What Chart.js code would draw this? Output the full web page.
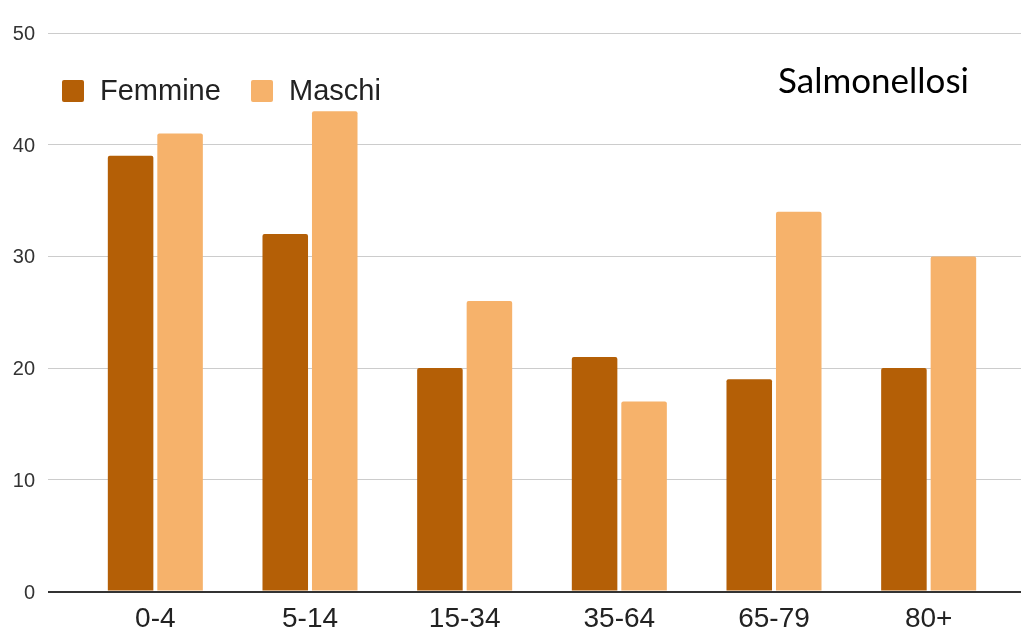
<!DOCTYPE html>
<html>
<head>
<meta charset="utf-8">
<script src="https://cdn.jsdelivr.net/npm/chart.js@4/dist/chart.umd.min.js"></script>
<style>
  html, body { margin: 0; padding: 0; background: #ffffff; }
  #wrap { position: relative; width: 1021px; height: 632px; }
</style>
</head>
<body>
<div id="wrap"><canvas id="c" width="1021" height="632"></canvas></div>
<script>
const categories = ['0-4', '5-14', '15-34', '35-64', '65-79', '80+'];
const femmine = [39, 32, 20, 21, 19, 20];
const maschi = [41, 43, 26, 17, 34, 30];
const seriesNames = ['Femmine', 'Maschi'];
const chartTitle = 'Salmonellosi';
const yTicks = [0, 10, 20, 30, 40, 50];

const FONT = "'Liberation Sans', Arial, sans-serif";

const gridColor = ctx => (ctx.tick && ctx.tick.value === 0) ? '#333333' : '#cccccc';
const gridWidth = ctx => (ctx.tick && ctx.tick.value === 0) ? 2 : 1;

const overlayPlugin = {
  id: 'overlay',
  afterDraw(chart) {
    const c = chart.ctx;
    c.save();
    // legend
    c.font = "29px " + FONT;
    c.textBaseline = 'alphabetic';
    c.textAlign = 'left';
    const boxX = [62, 251];
    const textX = [100, 289];
    chart.data.datasets.forEach((ds, i) => {
      c.fillStyle = ds.backgroundColor;
      c.beginPath();
      if (c.roundRect) c.roundRect(boxX[i], 80, 22, 22, 2); else c.rect(boxX[i], 80, 22, 22);
      c.fill();
      c.fillStyle = '#222222';
      c.fillText(ds.label, textX[i], 100);
    });
    // title
    c.font = "35px Lato, 'Open Sans', sans-serif";
    c.fillStyle = '#000000';
    c.fillText(chartTitle, 778, 93);
    c.restore();
  }
};

const bgPlugin = {
  id: 'bg',
  beforeDraw(chart) {
    const c = chart.ctx;
    c.save();
    c.fillStyle = '#ffffff';
    c.fillRect(0, 0, chart.width, chart.height);
    c.restore();
  }
};

new Chart(document.getElementById('c'), {
  type: 'bar',
  data: {
    labels: categories,
    datasets: [
      { label: seriesNames[0], data: femmine, backgroundColor: '#b45f06', borderRadius: 2,
        categoryPercentage: 0.64, barPercentage: 0.92, yAxisID: 'y' },
      { label: seriesNames[1], data: maschi, backgroundColor: '#f6b26b', borderRadius: 2,
        categoryPercentage: 0.64, barPercentage: 0.92, yAxisID: 'y' }
    ]
  },
  options: {
    responsive: false,
    animation: false,
    layout: { padding: { left: 0, top: 33, right: 0, bottom: 0 } },
    plugins: { legend: { display: false }, title: { display: false }, tooltip: { enabled: false } },
    scales: {
      x: {
        grid: { display: false, drawTicks: false },
        border: { display: false },
        ticks: { font: { family: FONT, size: 28 }, color: '#222222', padding: 11, maxRotation: 0 },
        afterFit: s => { s.height = 40.5; }
      },
      y: {
        position: 'left',
        min: 0, max: 50,
        afterBuildTicks: s => { s.ticks = yTicks.map(v => ({ value: v })); },
        grid: { color: gridColor, lineWidth: gridWidth, tickLength: 30, drawTicks: true },
        border: { display: false },
        ticks: { font: { family: FONT, size: 20 }, color: '#333333', padding: 13, labelOffset: 1.5 },
        afterFit: s => { s.width = 78; }
      },
      y2: {
        position: 'right',
        min: 0, max: 50,
        afterBuildTicks: s => { s.ticks = yTicks.map(v => ({ value: v })); },
        grid: { color: gridColor, lineWidth: gridWidth, tickLength: 15, drawTicks: true, drawOnChartArea: false },
        border: { display: false },
        ticks: { display: false, padding: 0 },
        afterFit: s => { s.width = 15; }
      }
    }
  },
  plugins: [bgPlugin, overlayPlugin]
});
</script>
</body>
</html>
